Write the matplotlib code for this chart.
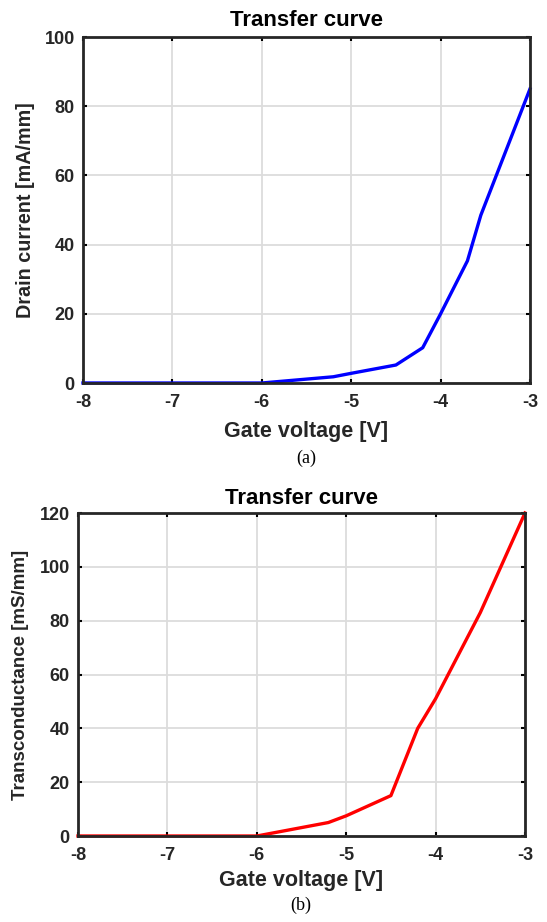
import matplotlib.pyplot as plt

plt.rcParams['font.family'] = ['Liberation Sans', 'DejaVu Sans']
plt.rcParams['font.weight'] = 'bold'
plt.rcParams['axes.unicode_minus'] = False

vg_a = [-8, -7, -6, -5.2, -5.0, -4.5, -4.2, -4.0, -3.7, -3.55, -3.0]
id_a = [0, 0, 0, 1.8, 2.8, 5.2, 10.2, 20, 35.3, 48.5, 85]

vg_b = [-8, -7, -6, -5.2, -5.0, -4.5, -4.2, -4.0, -3.5, -3.0]
gm_b = [0, 0, 0, 5, 7.5, 15, 40, 51, 83, 120]

ink = '#262626'


def style_axes(ax, yticks):
    ax.set_xlim(-8, -3)
    ax.set_xticks([-8, -7, -6, -5, -4, -3])
    ax.set_yticks(yticks)
    ax.set_ylim(yticks[0], yticks[-1])
    ax.grid(True, color='#dcdcdc', linewidth=1.3)
    ax.set_axisbelow(True)
    ax.tick_params(direction='in', length=3, width=1.5, top=True, right=True,
                   labelsize=13, colors='black', labelcolor=ink)
    ax.tick_params(axis='x', pad=8)
    ax.tick_params(axis='y', pad=6)
    for lab in ax.get_xticklabels() + ax.get_yticklabels():
        lab.set_fontweight('bold')
    for s in ax.spines.values():
        s.set_linewidth(2)
        s.set_color(ink)


def labels(ax, title, xlab, ylab, ylab_size, title_y, xlab_y, ylab_x):
    ax.text(0.5, title_y, title, transform=ax.transAxes, ha='center', va='center',
            fontsize=16, fontweight='bold', color='black')
    ax.set_xlabel(xlab, fontsize=15.5, fontweight='bold', color=ink)
    ax.xaxis.label.set_va('center')
    ax.xaxis.set_label_coords(0.5, xlab_y)
    ax.set_ylabel(ylab, fontsize=ylab_size, fontweight='bold', color=ink)
    ax.yaxis.label.set_va('center')
    ax.yaxis.set_label_coords(ylab_x, 0.5)


fig = plt.figure(figsize=(5.47, 9.22), dpi=100)

ax1 = fig.add_axes([83 / 547, 1 - 383 / 922, 447 / 547, 346 / 922])
ax1.plot(vg_a, id_a, color='blue', linewidth=2.4, clip_on=False)
style_axes(ax1, [0, 20, 40, 60, 80, 100])
labels(ax1, 'Transfer curve', 'Gate voltage [V]', 'Drain current [mA/mm]', 14.2,
       1 + 17 / 346, -49 / 346, -57 / 447)
fig.text(306 / 547, 1 - 458 / 922, '(a)', ha='center', va='center', fontsize=13,
         family='Liberation Serif', fontweight='normal')

ax2 = fig.add_axes([78 / 547, 1 - 836 / 922, 447 / 547, 323 / 922])
ax2.plot(vg_b, gm_b, color='red', linewidth=2.4, clip_on=False)
style_axes(ax2, [0, 20, 40, 60, 80, 100, 120])
labels(ax2, 'Transfer curve', 'Gate voltage [V]', 'Transconductance [mS/mm]', 13.5,
       1 + 15 / 323, -44 / 323, -57 / 447)
fig.text(301 / 547, 1 - 905 / 922, '(b)', ha='center', va='center', fontsize=13,
         family='Liberation Serif', fontweight='normal')

fig.savefig('out.png', dpi=100, facecolor='white')
